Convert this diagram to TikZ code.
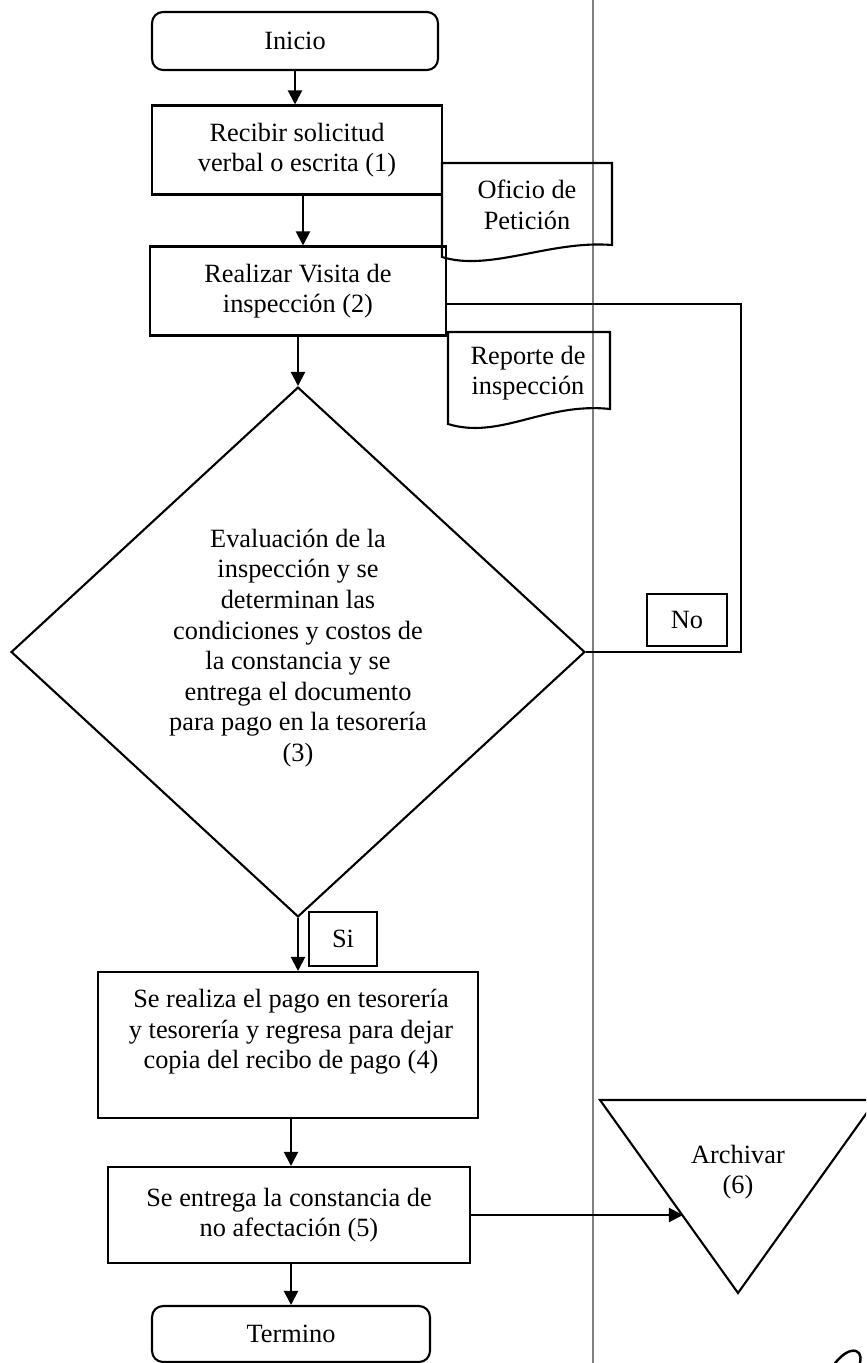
\documentclass[tikz,border=0pt]{standalone}
\usepackage{fontspec}
\setmainfont{Liberation Serif}
\usetikzlibrary{shapes.geometric,arrows.meta}
\tikzset{
  base/.style={draw, line width=1.2pt, inner sep=0pt, align=center, font=\fontsize{15}{17.4}\selectfont},
  procbox/.style={base, rectangle},
  termbox/.style={base, rectangle, rounded corners=0.22cm},
  decbox/.style={base, diamond},
  lblbox/.style={base, rectangle},
  txt/.style={align=center, inner sep=0pt, font=\fontsize{15}{17.4}\selectfont},
  doc/.style={draw, line width=1.2pt},
  arr/.style={line width=1.2pt, -{Triangle[length=8pt,width=8pt]}},
  ln/.style={line width=1.2pt},
  lane/.style={line width=1.4pt, black!50}
}
\begin{document}
\begin{tikzpicture}[x=0.02cm,y=-0.02cm]
\clip (0,0) rectangle (866,1363);
\fill[white] (0,0) rectangle (866,1363);

% lane separator
\draw[lane] (593,0) -- (593,1363);

% main nodes
\node[termbox, minimum width=5.72cm, minimum height=1.16cm] (ini) at (295,41) {Inicio};
\node[procbox, minimum width=5.80cm, minimum height=1.78cm] (b1) at (297,150) {Recibir solicitud\\verbal o escrita (1)};
\node[procbox, minimum width=5.92cm, minimum height=1.78cm] (b2) at (298,291) {Realizar Visita de\\inspección (2)};
\node[decbox, minimum width=11.48cm, minimum height=10.6cm] (dia) at (298,652) {};
\node[txt] (diat) at (298,648) {Evaluación de la\\inspección y se\\determinan las\\condiciones y costos de\\la constancia y se\\entrega el documento\\para pago en la tesorería\\(3)};
\node[procbox, minimum width=7.60cm, minimum height=2.92cm] (b4) at (288,1045) {};
\node[txt] (b4t) at (291,1032) {Se realiza el pago en tesorería\\y tesorería y regresa para dejar\\copia del recibo de pago (4)};
\node[procbox, minimum width=7.24cm, minimum height=1.92cm] (b5) at (289,1215) {Se entrega la constancia de\\no afectación (5)};
\node[termbox, minimum width=5.56cm, minimum height=1.12cm] (term) at (291,1334) {Termino};

% labels
\node[lblbox, minimum width=1.60cm, minimum height=1.04cm] (no) at (687,620) {No};
\node[lblbox, minimum width=1.36cm, minimum height=1.08cm] (si) at (343,939) {Si};

% documents
\draw[doc] (442,257) -- (442,163) -- (612,163) -- (612,245)
  .. controls (550,240) and (490,272) .. (442,257) -- cycle;
\node[txt] (ofi) at (527,205) {Oficio de\\Petición};
\draw[doc] (448,424) -- (448,332) -- (610,332) -- (610,409)
  .. controls (545,402) and (500,440) .. (448,424) -- cycle;
\node[txt] (rep) at (528,373) {Reporte de\\inspección};

% archive triangle
\coordinate (atl) at (600,1100);
\coordinate (atr) at (876,1100);
\coordinate (abt) at (738,1293);
\coordinate (ain) at (683,1215);
\draw[doc] (atl) -- (atr) -- (abt) -- cycle;
\node[txt] (arch) at (738,1172) {Archivar\\(6)};

% connectors
\draw[arr] (ini.south) -- (ini.south |- b1.north);
\draw[arr] (b1.south -| 303,0) -- (b2.north -| 303,0);
\draw[arr] (b2.south) -- (b2.south |- dia.north);
\draw[arr] (dia.south) -- (dia.south |- b4.north);
\draw[arr] (b4.south -| 291,0) -- (b5.north -| 291,0);
\draw[arr] (term.north |- b5.south) -- (term.north);
\draw[arr] (b5.east) -- (ain);
\coordinate (loopc) at (741,304);
\draw[ln] (dia.east) -| (loopc) -- (b2.east |- loopc);

% handwritten mark
\draw[line width=1.4pt] (833,1366) .. controls (840,1356) and (849,1349) .. (856,1351)
  .. controls (862,1353) and (861,1361) .. (859,1366);
\end{tikzpicture}
\end{document}
